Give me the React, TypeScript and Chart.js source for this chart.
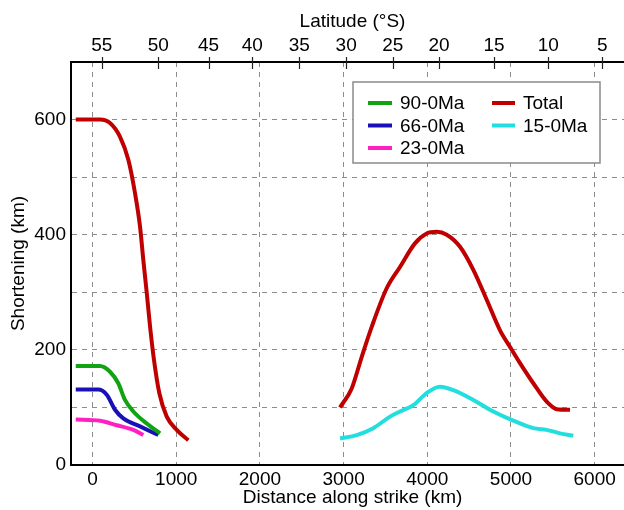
import React, { useEffect, useRef } from "react";
import { Chart, registerables } from "chart.js";

Chart.register(...registerables);

// ---- data (km along strike, km shortening) ----
const totalSouthX = [-200, 90, 209, 329, 428, 508, 568, 607, 648, 688, 735, 798, 887, 1006, 1145];
const totalSouthY = [600, 600, 594, 570, 530, 472, 414, 356, 299, 240, 182, 125, 84, 61, 43];
const totalNorthX = [2957, 3097, 3217, 3336, 3515, 3674, 3853, 3993, 4113, 4232, 4391, 4550, 4710, 4869, 4989, 5108, 5267, 5427, 5547, 5706];
const totalNorthY = [100, 133, 188, 240, 307, 344, 385, 402, 405, 400, 379, 339, 287, 234, 205, 177, 142, 110, 97, 96];

const ma90X = [-200, 90, 209, 308, 388, 488, 648, 807];
const ma90Y = [172, 172, 162, 142, 113, 93, 72, 55];

const ma66X = [-200, 69, 170, 269, 368, 568, 786];
const ma66Y = [131, 131, 122, 96, 81, 67, 52];

const ma23X = [-200, 90, 289, 488, 607];
const ma23Y = [79, 77, 69, 61, 52];

const ma15X = [2957, 3157, 3355, 3555, 3674, 3833, 3993, 4151, 4311, 4550, 4789, 5028, 5267, 5427, 5586, 5745];
const ma15Y = [46, 52, 64, 84, 93, 104, 125, 136, 130, 113, 93, 77, 64, 61, 55, 51];

const distanceTicks = [0, 1000, 2000, 3000, 4000, 5000, 6000];
const latitudeTickPos = [110, 786, 1387, 1909, 2471, 3031, 3588, 4140, 4797, 5446, 6091];
const latitudeTickLabels = ["55", "50", "45", "40", "35", "30", "25", "20", "15", "10", "5"];

const seriesNames = ["90-0Ma", "66-0Ma", "23-0Ma", "Total", "15-0Ma"];
const seriesColors = ["#12a312", "#1a10b8", "#ff20c4", "#c00000", "#22dede"];

const X_MIN = -257;
const X_MAX = 6470;
const FONT = "'Liberation Sans', Arial, sans-serif";

const pts = (xs: number[], ys: number[]) => xs.map((x, i) => ({ x, y: ys[i] }));

const topTicksPlugin = {
  id: "topTicks",
  afterDraw(chart: any) {
    const s = chart.scales.x2;
    const ctx = chart.ctx;
    const top = chart.chartArea.top;
    ctx.save();
    ctx.strokeStyle = "#222";
    ctx.lineWidth = 1.2;
    latitudeTickPos.forEach((v) => {
      const px = Math.round(s.getPixelForValue(v)) + 0.5;
      ctx.beginPath();
      ctx.moveTo(px, top - 5);
      ctx.lineTo(px, top + 7);
      ctx.stroke();
    });
    ctx.restore();
  },
};

const legendPlugin = {
  id: "boxLegend",
  afterDraw(chart: any) {
    const ctx = chart.ctx;
    ctx.save();
    ctx.fillStyle = "#fff";
    ctx.fillRect(353, 82, 247, 81);
    ctx.strokeStyle = "#8a8a8a";
    ctx.lineWidth = 1.5;
    ctx.strokeRect(353, 82, 247, 81);
    const rows = [103, 125.5, 148];
    const cols = [
      { sx: 368, ex: 392, tx: 400 },
      { sx: 492, ex: 515, tx: 523 },
    ];
    ctx.font = `19px ${FONT}`;
    ctx.textBaseline = "middle";
    ctx.textAlign = "left";
    seriesNames.forEach((name, i) => {
      const c = i < 3 ? cols[0] : cols[1];
      const y = rows[i < 3 ? i : i - 3];
      ctx.strokeStyle = seriesColors[i];
      ctx.lineWidth = 4;
      ctx.beginPath();
      ctx.moveTo(c.sx, y);
      ctx.lineTo(c.ex, y);
      ctx.stroke();
      ctx.fillStyle = "#000";
      ctx.fillText(name, c.tx, y + 1);
    });
    ctx.restore();
  },
};

export default function App() {
  const ref = useRef<HTMLCanvasElement | null>(null);

  useEffect(() => {
    if (!ref.current) return;
    const totalData = [
      ...pts(totalSouthX, totalSouthY),
      { x: 2000, y: null as any },
      ...pts(totalNorthX, totalNorthY),
    ];
    const mk = (label: string, data: any[], color: string) => ({
      label,
      data,
      borderColor: color,
      backgroundColor: color,
      borderWidth: 4,
      pointRadius: 0,
      fill: false,
      cubicInterpolationMode: "monotone" as const,
      spanGaps: false,
    });
    const chart = new Chart(ref.current, {
      type: "line",
      data: {
        datasets: [
          mk(seriesNames[3], totalData, seriesColors[3]),
          mk(seriesNames[0], pts(ma90X, ma90Y), seriesColors[0]),
          mk(seriesNames[1], pts(ma66X, ma66Y), seriesColors[1]),
          mk(seriesNames[2], pts(ma23X, ma23Y), seriesColors[2]),
          mk(seriesNames[4], pts(ma15X, ma15Y), seriesColors[4]),
        ],
      },
      options: {
        responsive: false,
        animation: false,
        devicePixelRatio: 1,
        layout: { padding: { left: 0, right: 16, top: 0, bottom: 0 } },
        plugins: { legend: { display: false }, tooltip: { enabled: false } },
        scales: {
          x: {
            type: "linear",
            position: "bottom",
            min: X_MIN,
            max: X_MAX,
            afterBuildTicks: (s: any) => {
              s.ticks = distanceTicks.map((v) => ({ value: v }));
            },
            afterFit: (s: any) => {
              s.height = 45;
            },
            ticks: {
              font: { family: FONT, size: 19 },
              color: "#000",
              padding: 3,
              maxRotation: 0,
              autoSkip: false,
              callback: (v: any) => String(v),
            },
            grid: { color: "#8c8c8c", lineWidth: 1, drawTicks: false },
            border: { color: "#000", width: 2, dash: [5, 5] },
            title: {
              display: true,
              text: "Distance along strike (km)",
              color: "#000",
              font: { family: FONT, size: 19 },
              padding: { top: 0, bottom: 1 },
            },
          },
          x2: {
            type: "linear",
            position: "top",
            min: X_MIN,
            max: X_MAX,
            afterBuildTicks: (s: any) => {
              s.ticks = latitudeTickPos.map((v) => ({ value: v }));
            },
            afterFit: (s: any) => {
              s.height = 62;
            },
            ticks: {
              font: { family: FONT, size: 19 },
              color: "#000",
              padding: 5,
              maxRotation: 0,
              autoSkip: false,
              callback: (v: any) => {
                const i = latitudeTickPos.indexOf(Number(v));
                return i >= 0 ? latitudeTickLabels[i] : "";
              },
            },
            grid: { drawOnChartArea: false, drawTicks: false },
            border: { color: "#000", width: 2 },
            title: {
              display: true,
              text: "Latitude (°S)",
              color: "#000",
              font: { family: FONT, size: 19 },
              padding: { top: 10, bottom: 0 },
            },
          },
          y: {
            type: "linear",
            min: 0,
            max: 700,
            afterFit: (s: any) => {
              s.width = 71;
            },
            ticks: {
              stepSize: 100,
              font: { family: FONT, size: 19 },
              color: "#000",
              padding: 5,
              callback: (v: any) => (Number(v) % 200 === 0 ? String(v) : ""),
            },
            grid: { color: "#8c8c8c", lineWidth: 1, drawTicks: false },
            border: { color: "#000", width: 2, dash: [5, 5] },
            title: {
              display: true,
              text: "Shortening (km)",
              color: "#000",
              font: { family: FONT, size: 19 },
              padding: { top: 7, bottom: 0 },
            },
          },
        },
      },
      plugins: [topTicksPlugin, legendPlugin],
    });
    return () => chart.destroy();
  }, []);

  return (
    <div style={{ position: "absolute", left: 0, top: 0, width: 624, height: 510, overflow: "hidden", background: "#fff" }}>
      <canvas ref={ref} width={650} height={510} style={{ display: "block" }} />
    </div>
  );
}
